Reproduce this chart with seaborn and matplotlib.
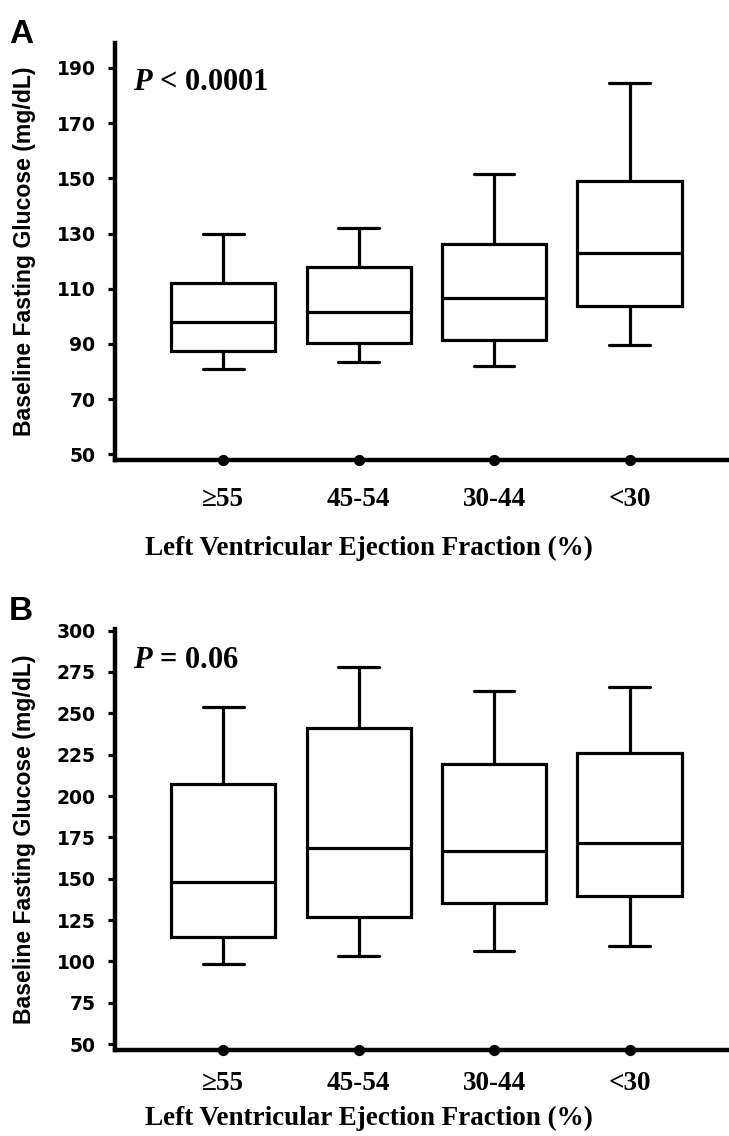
import matplotlib
matplotlib.use("Agg")
import matplotlib.pyplot as plt
import matplotlib.transforms as mtransforms
import seaborn as sns

sns.set_style("ticks")

categories = ["\u226555", "45-54", "30-44", "<30"]

# Panel A (non-diabetic) five-number summaries
a_whislo = [80.8, 83.6, 82.2, 89.8]
a_q1 = [87.3, 90.2, 91.6, 103.9]
a_med = [98.1, 101.7, 106.8, 123.1]
a_q3 = [112.2, 118.0, 126.3, 149.1]
a_whishi = [130.0, 132.1, 151.7, 184.6]
a_ticks = [50, 70, 90, 110, 130, 150, 170, 190]
a_ptext = "< 0.0001"

# Panel B (diabetic)
b_whislo = [98.4, 103.3, 106.3, 109.3]
b_q1 = [114.8, 126.9, 135.4, 139.6]
b_med = [148.0, 168.6, 166.8, 171.7]
b_q3 = [207.4, 241.3, 219.5, 226.1]
b_whishi = [254.0, 278.2, 263.7, 266.1]
b_ticks = [50, 75, 100, 125, 150, 175, 200, 225, 250, 275, 300]
b_ptext = "= 0.06"

xlabel = "Left Ventricular Ejection Fraction (%)"
ylabel = "Baseline Fasting Glucose (mg/dL)"

SANS = ["Liberation Sans", "DejaVu Sans"]
WIDE = ["DejaVu Sans"]
SERIF = ["Liberation Serif", "DejaVu Serif"]

plt.rcParams["text.color"] = "black"
plt.rcParams["axes.labelcolor"] = "black"
plt.rcParams["xtick.color"] = "black"
plt.rcParams["ytick.color"] = "black"
plt.rcParams["axes.edgecolor"] = "black"
plt.rcParams["mathtext.fontset"] = "custom"
plt.rcParams["mathtext.bfit"] = "Liberation Serif:italic:bold"

fig = plt.figure(figsize=(7.29, 11.36), dpi=100)
fig.patch.set_facecolor("white")

def panel(rect, lo, q1, med, q3, hi, ticks, ylim, ptext, p_y, letter,
          letter_y, xpad, xlabpad):
    ax = fig.add_axes(rect)
    stats = []
    for i, c in enumerate(categories):
        stats.append(dict(label=c, whislo=lo[i], q1=q1[i], med=med[i],
                          q3=q3[i], whishi=hi[i], fliers=[]))
    lw = 2.3
    pos = list(range(len(categories)))
    ax.bxp(stats, positions=pos, widths=0.77, capwidths=0.30,
           showfliers=False, patch_artist=True,
           boxprops=dict(facecolor="white", edgecolor="black", linewidth=lw),
           medianprops=dict(color="black", linewidth=lw),
           whiskerprops=dict(color="black", linewidth=lw),
           capprops=dict(color="black", linewidth=lw))
    ax.set_xlim(-0.8, 3.72)
    ax.set_ylim(*ylim)
    ax.set_yticks(ticks)
    ax.set_yticklabels([str(t) for t in ticks], family=WIDE,
                       fontweight="bold", fontsize=13.5)
    ax.set_xticks(pos)
    ax.set_xticklabels(categories, family=SERIF, fontweight="bold",
                       fontsize=19.5)
    ax.tick_params(axis="x", length=0, pad=xpad)
    ax.tick_params(axis="y", length=5, width=2.3, pad=9, direction="out")
    sns.despine(ax=ax)
    ax.spines["left"].set_linewidth(3.2)
    ax.spines["bottom"].set_linewidth(3.2)
    ax.set_xlabel(xlabel, family=SERIF, fontweight="bold", fontsize=19.5,
                  labelpad=xlabpad)
    ax.xaxis.label.set_x(0.415)
    ax.set_ylabel(ylabel, family=SANS, fontweight="bold", fontsize=16.6)
    ax.yaxis.set_label_coords(-0.129, 0.5)
    trans = mtransforms.blended_transform_factory(ax.transData, ax.transAxes)
    ax.scatter(pos, [0] * len(pos), s=50, color="black", transform=trans,
               clip_on=False, zorder=5)
    ax.text(0.03, p_y, "$\\mathbfit{P}$ " + ptext, transform=ax.transAxes,
            family=SERIF, fontweight="bold", fontsize=22, ha="left",
            va="baseline")
    fig.text(0.012, letter_y, letter, family=SANS, fontweight="bold",
             fontsize=24, ha="left", va="baseline")
    ax.set_facecolor("white")
    ax.grid(False)
    return ax

panel([0.1578, 0.5951, 0.8395, 0.3671], a_whislo, a_q1, a_med, a_q3,
      a_whishi, a_ticks, (48, 199), a_ptext, 0.887, "A", 1 - 43 / 1136,
      19.5, 17)
panel([0.1578, 0.0757, 0.8395, 0.3706], b_whislo, b_q1, b_med, b_q3,
      b_whishi, b_ticks, (46.4, 301), b_ptext, 0.907, "B", 1 - 620 / 1136,
      15, 7)

fig.savefig("out.png", dpi=100, facecolor="white")
